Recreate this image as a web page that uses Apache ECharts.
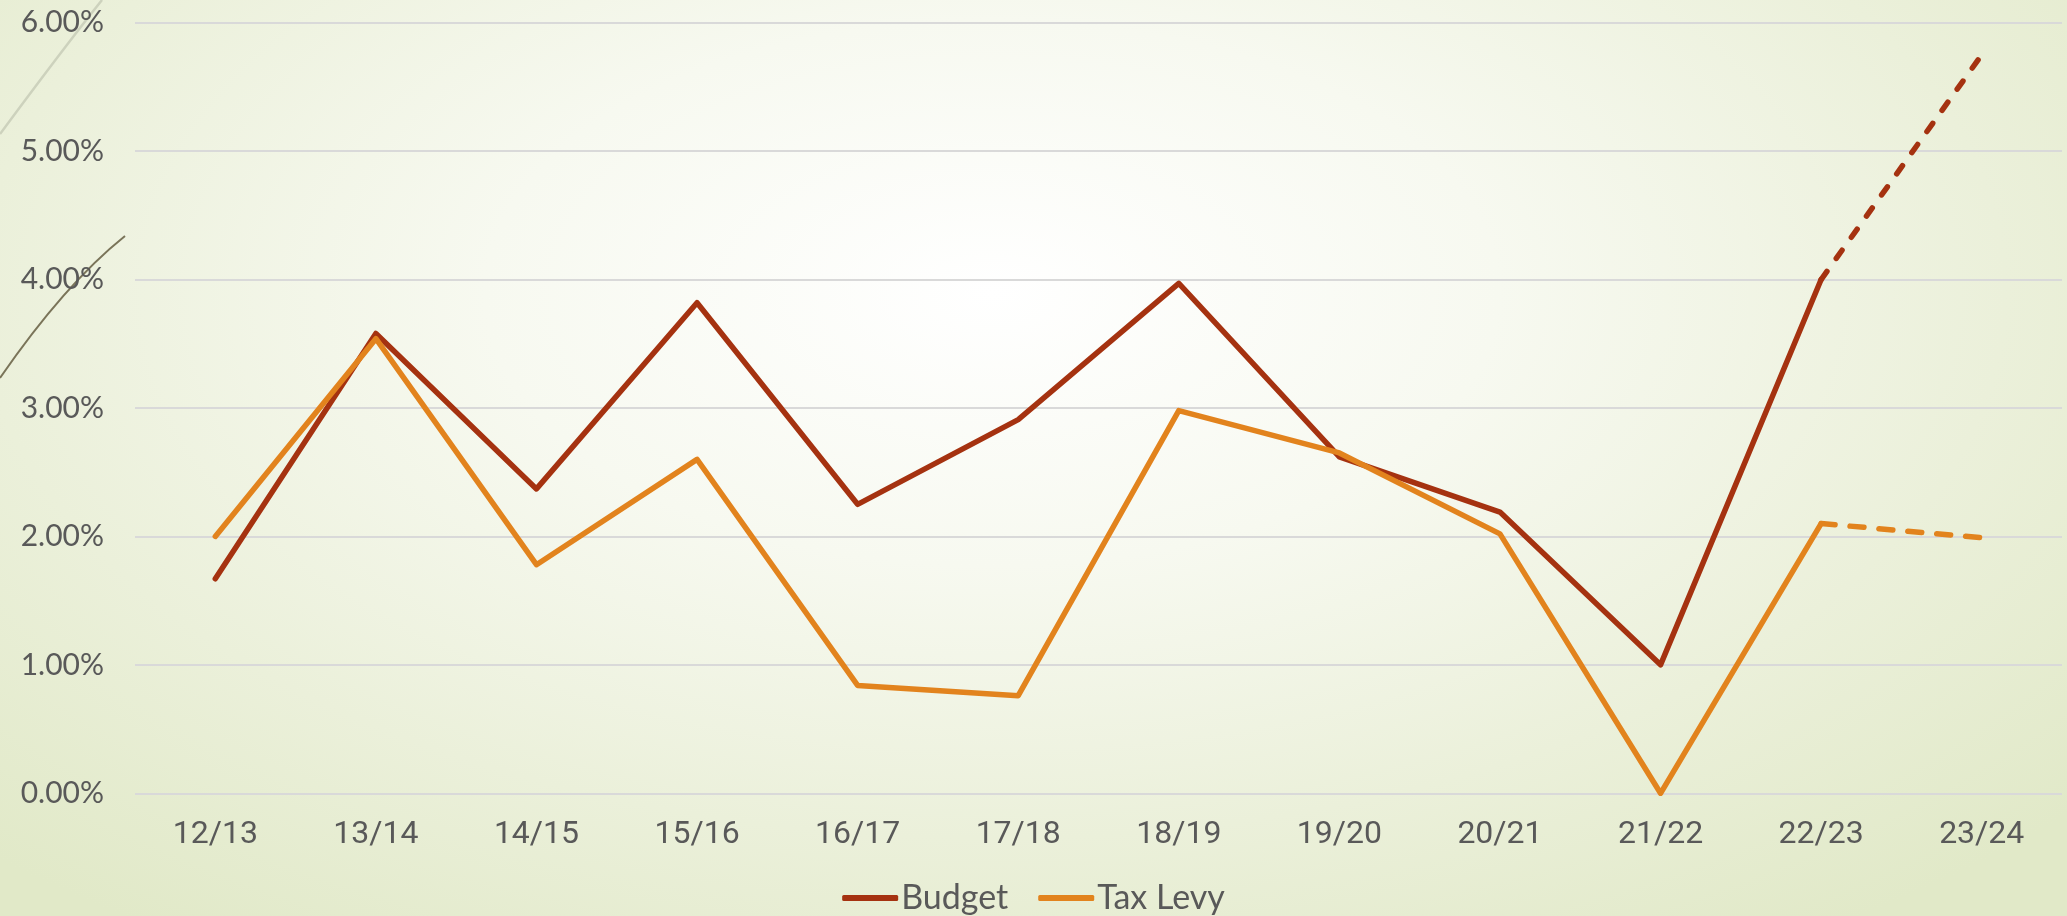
<!DOCTYPE html>
<html>
<head>
<meta charset="utf-8">
<script src="https://cdn.jsdelivr.net/npm/echarts@6/dist/echarts.min.js"></script>
<style>
html,body{margin:0;padding:0;width:2067px;height:916px;overflow:hidden;}
#c{width:2067px;height:916px;
background: radial-gradient(ellipse 70% 85% at 48% 32%, #ffffff 0%, #f7f9f0 35%, #ebf0da 70%, #e1e9c8 100%);}
</style>
</head>
<body>
<div id="c"></div>
<script>
const categories = ['12/13','13/14','14/15','15/16','16/17','17/18','18/19','19/20','20/21','21/22','22/23','23/24'];
const budget = [1.67, 3.58, 2.37, 3.82, 2.25, 2.91, 3.97, 2.62, 2.19, 1.00, 4.00, 5.75];
const taxLevy = [2.00, 3.54, 1.78, 2.60, 0.84, 0.76, 2.98, 2.65, 2.02, 0.00, 2.10, 1.99];
const projectedFrom = 10; // index where dashed projection starts
const yTicks = [0, 1, 2, 3, 4, 5, 6];

function solidPart(arr){ return arr.map((v,i)=> i<=projectedFrom ? v : null); }
function dashedPart(arr){ return arr.map((v,i)=> i>=projectedFrom ? v : null); }

const budgetColor = '#A53210';
const levyColor = '#E2831D';

const chart = echarts.init(document.getElementById('c'), null, {renderer:'canvas'});
chart.setOption({
  backgroundColor: 'transparent',
  animation: false,
  graphic: [
    {type:'bezierCurve', silent:true, shape:{x1:0,y1:134,x2:102,y2:0,cpx1:40,cpy1:80,cpx2:70,cpy2:40},
     style:{stroke:'#cdd2bd', lineWidth:2.5, fill:null}},
    {type:'bezierCurve', silent:true, shape:{x1:0,y1:378,x2:125,y2:236,cpx1:40,cpy1:320,cpx2:80,cpy2:272},
     style:{stroke:'#7a7459', lineWidth:2, fill:null}}
  ],
  grid: {left:135, right:5, top:22.7, bottom:122.7, containLabel:false},
  legend: {
    data:['Budget','Tax Levy'],
    left:'center', top:876,
    itemWidth:56, itemHeight:6, itemGap:30,
    icon:'roundRect',
    textStyle:{fontFamily:'Lato, "Noto Sans", sans-serif', fontSize:34, color:'#595959', padding:[0,0,0,-2]}
  },
  xAxis: {
    type:'category', data:categories, boundaryGap:true,
    axisLine:{show:false}, axisTick:{show:false},
    axisLabel:{fontFamily:'"Liberation Sans Narrow", Roboto, sans-serif', fontSize:32, color:'#595959', margin:26}
  },
  yAxis: {
    type:'value', min:yTicks[0], max:yTicks[yTicks.length-1], interval:1,
    axisLine:{show:false}, axisTick:{show:false},
    axisLabel:{fontFamily:'Lato, "Noto Sans", sans-serif', fontSize:30, color:'#595959', margin:31,
      formatter:v=>v.toFixed(2)+'%'},
    splitLine:{lineStyle:{color:'#d9d9d9', width:2}}
  },
  series: [
    {name:'Budget', type:'line', data:solidPart(budget), symbol:'none', color:budgetColor,
     lineStyle:{width:5.5, color:budgetColor, cap:'round', join:'round'}},
    {name:'Tax Levy', type:'line', data:solidPart(taxLevy), symbol:'none', color:levyColor,
     lineStyle:{width:5.5, color:levyColor, cap:'round', join:'round'}},
    {name:'Budget', type:'line', data:dashedPart(budget), symbol:'none', color:budgetColor,
     lineStyle:{width:5.5, color:budgetColor, type:[10,16], cap:'round'}},
    {name:'Tax Levy', type:'line', data:dashedPart(taxLevy), symbol:'none', color:levyColor,
     lineStyle:{width:5.5, color:levyColor, type:[14,15], cap:'round'}}
  ]
});
</script>
</body>
</html>
